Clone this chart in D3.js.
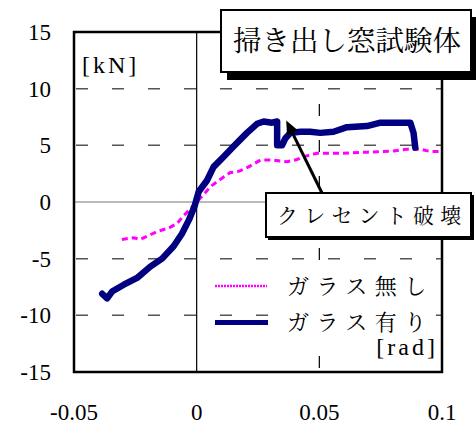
<!DOCTYPE html>
<html><head><meta charset="utf-8">
<script src="https://cdn.jsdelivr.net/npm/d3@7"></script>
</head>
<body style="margin:0;font-family:'Liberation Serif',serif">
<script>
// ---- data ----
const xTicks = [-0.05, 0, 0.05, 0.1];
const xTickLabels = ["-0.05", "0", "0.05", "0.1"];
const yTicks = [15, 10, 5, 0, -5, -10, -15];
const yTickLabels = ["15", "10", "5", "0", "-5", "-10", "-15"];

const seriesNames = ["ガラス無し", "ガラス有り"];

const noGlassX = [-0.0305,-0.0257,-0.023,-0.0189,-0.0161,-0.0114,-0.008,-0.0053,-0.003,0,0.003,0.0056,0.009,0.011,0.0137,0.0171,0.0212,0.026,0.0314,0.0368,0.0409,0.0436,0.049,0.0586,0.0694,0.0803,0.0857,0.0912,0.0953,0.0993];
const noGlassY = [-3.3,-3.15,-3.3,-2.9,-2.6,-2.3,-1.9,-1.2,-0.7,0,0.7,1.35,1.9,2.2,2.6,2.7,3.1,3.7,3.7,3.55,3.75,4.0,4.3,4.3,4.4,4.5,4.65,4.65,4.45,4.45];

const glassX = [-0.0385,-0.0365,-0.0345,-0.0297,-0.0243,-0.0189,-0.0141,-0.0094,-0.006,-0.0032,-0.0009,0.0008,0.0042,0.0069,0.011,0.015,0.0205,0.0246,0.0273,0.0307,0.0328,0.0328,0.0348,0.0361,0.0382,0.0423,0.0463,0.0504,0.0558,0.0613,0.0694,0.0749,0.0817,0.0871,0.0884,0.0891];
const glassY = [-8.1,-8.5,-7.9,-7.3,-6.7,-5.7,-5.0,-3.9,-2.8,-1.6,-0.4,0.9,1.9,3.1,4.0,4.9,6.1,6.9,7.1,7.0,7.1,5.0,5.0,5.6,6.1,6.2,6.2,6.1,6.2,6.6,6.7,7.0,7.0,7.0,6.1,4.8];

const titleText = "掃き出し窓試験体";
const annotText = "クレセント破壊";
const annotTarget = [0.0365, 7.2];
const yUnit = "[kN]";
const xUnit = "[rad]";

// ---- layout ----
const W = 476, H = 426;
const L = 74, R = 442, T = 32, B = 372;
const SERIF = "font-family:'Liberation Serif',serif;";
const JP = "font-family:'Noto Serif CJK JP',serif;";
const xs = d3.scaleLinear().domain([-0.05, 0.1]).range([L, R]);
const ys = d3.scaleLinear().domain([-15, 15]).range([B, T]);

const svg = d3.select("body").append("svg").attr("width", W).attr("height", H)
  .attr("font-family", "Liberation Serif, serif")
  .attr("style", "display:block;background:#fff;font-family:'Liberation Serif',serif");

// grid
const grid = svg.append("g");
grid.selectAll("line.hg").data(yTicks.filter(v => v !== 0 && Math.abs(v) !== 15)).enter()
  .append("line").attr("x1", L).attr("x2", R).attr("y1", d => ys(d)).attr("y2", d => ys(d))
  .attr("stroke", "#555").attr("stroke-width", 1.5).attr("stroke-dasharray", "12,24").attr("stroke-dashoffset", -2);
grid.append("line").attr("x1", L).attr("x2", R).attr("y1", ys(0)).attr("y2", ys(0))
  .attr("stroke", "#777").attr("stroke-width", 1.2);
grid.append("line").attr("x1", xs(0)).attr("x2", xs(0)).attr("y1", T).attr("y2", B)
  .attr("stroke", "#000").attr("stroke-width", 1.2);
grid.append("line").attr("x1", xs(0.05)).attr("x2", xs(0.05)).attr("y1", T).attr("y2", B)
  .attr("stroke", "#000").attr("stroke-width", 1.2).attr("stroke-dasharray", "12,24");

// series
const lineGen = d3.line().x(d => xs(d[0])).y(d => ys(d[1]));
const ng = noGlassX.map((v, i) => [v, noGlassY[i]]);
const wg = glassX.map((v, i) => [v, glassY[i]]);
svg.append("path").attr("d", lineGen(ng)).attr("fill", "none").attr("stroke", "#ff00ff")
  .attr("stroke-width", 3).attr("stroke-dasharray", "6,4");
svg.append("path").attr("d", lineGen(wg)).attr("fill", "none").attr("stroke", "#000080")
  .attr("stroke-width", 6.5).attr("stroke-linejoin", "round").attr("stroke-linecap", "round");

// frame
svg.append("rect").attr("x", L).attr("y", T).attr("width", R - L).attr("height", B - T)
  .attr("fill", "none").attr("stroke", "#000").attr("stroke-width", 2.5);

// axis labels
svg.selectAll("text.yl").data(yTicks).enter().append("text")
  .attr("style", SERIF + "font-size:23px")
  .attr("x", 51).attr("y", d => ys(d) + 8).attr("text-anchor", "end").text((d, i) => yTickLabels[i]);
svg.selectAll("text.xl").data(xTicks).enter().append("text")
  .attr("style", SERIF + "font-size:23px")
  .attr("x", d => xs(d)).attr("y", 420).attr("text-anchor", "middle").text((d, i) => xTickLabels[i]);

svg.append("text").attr("style", SERIF + "font-size:24px;letter-spacing:3px")
  .attr("x", 82).attr("y", 73).text(yUnit);
svg.append("text").attr("style", SERIF + "font-size:24px;letter-spacing:3px")
  .attr("x", 438).attr("y", 355).attr("text-anchor", "end").text(xUnit);

// legend
svg.append("rect").attr("x", 279).attr("y", 270).attr("width", 152).attr("height", 66).attr("fill", "#fff");
svg.append("line").attr("x1", 215).attr("x2", 267).attr("y1", 286).attr("y2", 286)
  .attr("stroke", "#ff00ff").attr("stroke-width", 2.5).attr("stroke-dasharray", "2,1");
svg.append("line").attr("x1", 215).attr("x2", 268).attr("y1", 322.5).attr("y2", 322.5)
  .attr("stroke", "#000080").attr("stroke-width", 5);
svg.append("text").attr("style", JP + "font-size:22px;letter-spacing:7.5px")
  .attr("x", 287).attr("y", 294).text(seriesNames[0]);
svg.append("text").attr("style", JP + "font-size:22px;letter-spacing:7.5px")
  .attr("x", 287).attr("y", 330).text(seriesNames[1]);

// title box
svg.append("rect").attr("x", 227).attr("y", 17).attr("width", 251).attr("height", 63).attr("fill", "#000");
svg.append("rect").attr("x", 221).attr("y", 10).attr("width", 250).attr("height", 62)
  .attr("fill", "#fff").attr("stroke", "#000").attr("stroke-width", 2);
svg.append("text").attr("style", JP + "font-size:28.5px")
  .attr("x", 347).attr("y", 51).attr("text-anchor", "middle").text(titleText);

// annotation
const ax0 = 322, ay0 = 193;
const tx = xs(annotTarget[0]), ty = ys(annotTarget[1]);
const ang = Math.atan2(ty - ay0, tx - ax0);
const hl = 14, hw = 6;
const bx = tx - hl * Math.cos(ang), by = ty - hl * Math.sin(ang);
svg.append("line").attr("x1", ax0).attr("y1", ay0).attr("x2", bx).attr("y2", by)
  .attr("stroke", "#000").attr("stroke-width", 3);
svg.append("path").attr("d", `M${tx},${ty}L${bx + hw * Math.sin(ang)},${by - hw * Math.cos(ang)}L${bx - hw * Math.sin(ang)},${by + hw * Math.cos(ang)}Z`)
  .attr("fill", "#000");
svg.append("rect").attr("x", 268).attr("y", 195).attr("width", 206).attr("height", 45).attr("fill", "#000");
svg.append("rect").attr("x", 266).attr("y", 193).attr("width", 205).attr("height", 44)
  .attr("fill", "#fff").attr("stroke", "#000").attr("stroke-width", 2);
svg.append("text").attr("style", JP + "font-size:21px;letter-spacing:6.2px")
  .attr("x", 277).attr("y", 223).text(annotText);
</script>
</body></html>
